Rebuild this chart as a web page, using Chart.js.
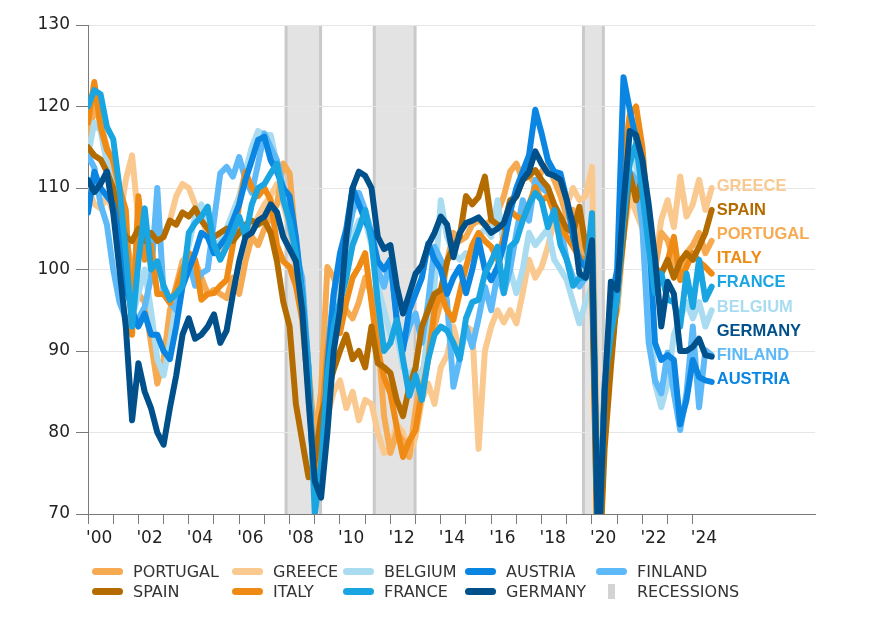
<!DOCTYPE html>
<html lang="en">
<head>
    <meta charset="UTF-8">
    <title>Euro area sentiment by country</title>
    <script src="https://cdn.jsdelivr.net/npm/chart.js"></script>
    <style>
        html, body { margin: 0; padding: 0; background: #fff; }
        #wrap { position: relative; width: 892px; height: 628px; }
        #legend { position: absolute; left: 0; top: 0; width: 892px; height: 628px; pointer-events: none;
                  font-family: "DejaVu Sans", sans-serif; font-size: 16px; color: #333; }
        .item { position: absolute; display: flex; align-items: center; height: 20px; }
        .swatch { width: 31px; height: 7px; border-radius: 4px; margin-right: 10px; }
        .rec { width: 7px; height: 15px; background: #d3d3d3; margin-left: 12px; margin-right: 22px; }
    </style>
</head>
<body>
<div id="wrap">
    <canvas id="chart" width="892" height="628"></canvas>
    <div id="legend"></div>
</div>
<script>
// quarterly observations, first point Q1 2000
const startYear = 2000;

const germany = [
    111, 109.5, 110.5, 112,  107, 100, 93, 81.5,  88.5, 85, 83, 80,  78.5, 83, 87, 92,
    94, 91.5, 92, 93,  94.5, 91, 92.5, 97,  101, 104, 104.5, 106,  106.5, 108, 107, 104,
    102.5, 101, 95, 84,  74, 72, 80, 90,  95, 104, 110, 112,  111.5, 110, 104, 102.5,
    103, 98, 94.6, 97,  99.5, 100.5, 103, 104.5,  106.5, 105.5, 101.5, 104.5,  105.7, 106, 106.4, 105.5,
    104.5, 105, 105.7, 108,  109, 111, 112, 114.5,  113, 111.8, 111.5, 111,  108.5, 105.5, 99.5, 99,
    103.6, 64, 84.8, 98.5,  97.5, 108, 117, 116.5,  113.4, 108, 101.5, 93,  98.5, 97, 90, 90,
    90.5, 91.5, 89.5, 89.3
];
const france = [
    120, 122, 121.5, 117.5,  116, 110, 102, 93,  101, 107.5, 100, 101,  98, 96.3, 97, 98,
    104.5, 105.7, 106.5, 107.7,  103, 101.2, 102.8, 104.5,  106.5, 104, 108, 110,  110.5, 111.8, 113, 108.5,
    106, 102, 97, 88,  70, 76, 87, 93,  96, 99, 103, 105,  107.3, 103.5, 96, 90,
    91, 93.8, 89, 84.5,  87, 84, 89, 92,  93, 92.5, 91, 89,  94, 96, 96.3, 99.5,
    101, 102.8, 97.1, 102.8,  103.5, 106, 108, 109.4,  108.5, 105.2, 107.3, 103,  101.2, 98, 99, 99,
    106.9, 64, 86, 92,  96.5, 106, 113, 115.5,  109.4, 102.8, 97.1, 99.5,  96.3, 96, 93, 99.5,
    95.4, 101.2, 96.3, 97.9
];
const austria = [
    107, 112, 110, 109,  108, 104, 98, 95,  93, 94.6, 92, 92,  90, 89, 93, 97.9,
    100, 102, 104.5, 104,  102, 103, 104, 106,  108, 111, 113.4, 115.9,  116.3, 113.4, 112, 110,
    109, 104, 97, 87,  72, 75, 88, 97,  102, 105, 110, 108,  106, 104.5, 101, 100,
    101.2, 93.8, 90.1, 95,  97, 99, 103.2, 101.2,  100, 97, 99, 100.3,  97.1, 100, 103.6, 100,
    98.7, 100.3, 103, 107,  110, 112, 114, 119.6,  116.7, 113.4, 112, 111.8,  108.5, 104, 101.2, 100.3,
    102, 64, 85, 96,  100, 123.6, 119.6, 116,  113.4, 105.2, 91, 88.9,  89.5, 88.9, 81, 84,
    88.9, 86.8, 86.4, 86.2
];
const spain = [
    115, 114, 113.5, 112,  110, 106, 104, 103.5,  105, 103.5, 104.5, 103.5,  104, 106, 105.5, 107,
    106.5, 107.5, 106, 105,  104, 104.5, 105, 103.5,  104.5, 105.5, 106, 105.5,  106, 104.5, 101, 96,
    93, 83.5, 79, 74.5,  76.5, 82, 85, 87.7,  90, 92, 89, 90,  88, 93, 88.5, 88,
    87.3, 84, 82, 85.6,  88, 93, 95, 97,  97.5, 101, 102.8, 104,  109, 108, 108.9, 111.4,
    106.1, 105.5, 105.2, 108.5,  109, 111, 111.5, 112.2,  111, 110.1, 108, 106.5,  105, 104.5, 107.7, 102.8,
    100, 60, 78, 88,  97, 104, 111.8, 108.5,  111.4, 104.5, 97.1, 99.5,  101.2, 99, 101, 102,
    101.2, 102.8, 104.5, 107.3
];
const italy = [
    118, 123, 117.5, 114.7,  113.4, 110, 107.3, 92,  109, 101.2, 103, 97,  97, 95.9, 97.5, 100,
    102, 101.2, 96.3, 97,  97.1, 98, 98.7, 103,  108, 112, 110, 109,  110, 108.5, 103, 101,
    100.3, 98, 93.8, 85,  75, 80.7, 90, 95,  92.2, 96, 99, 100.3,  102, 96, 90, 86.8,
    84.8, 80.7, 77, 79,  80.3, 85, 88.9, 95,  97.1, 95, 93.8, 97.1,  100.3, 103, 104.5, 103.5,
    102.8, 101.2, 104, 107.3,  106.5, 106.1, 108, 110.1,  108.5, 109, 107, 105.2,  104, 102.8, 101.5, 101.2,
    99, 60, 84.8, 89,  97, 113.4, 119, 120,  115, 105.2, 100.3, 99.5,  101, 104, 98.7, 100.3,
    102, 101, 100.3, 99.5
];
const finland = [
    114, 112.5, 108, 105.5,  100, 96, 94, 93,  94, 95.4, 99, 110,  97, 96, 95, 100,
    101, 98, 99.5, 100,  106, 111.8, 112.6, 111.4,  113.8, 111, 109.4, 113,  116.7, 115, 113.4, 110,
    105.2, 102, 99, 88,  72, 78, 90, 97,  101.2, 103.2, 107, 109.4,  107.3, 104.5, 100, 97.9,
    101.2, 94, 90.5, 93,  94.6, 91, 96, 102.8,  101.2, 96, 85.6, 89,  93, 90.5, 94, 97.9,
    95, 99.5, 97.1, 100,  104.5, 108.5, 106, 111,  110, 109.4, 107, 105.2,  101.2, 99, 97.9, 99,
    100, 66, 84, 92,  97, 106, 112, 111,  105.2, 91, 86.4, 84.8,  89.8, 84.8, 80.3, 84.8,
    93, 83.1, 90.1, 89.5
];
const belgium = [
    114, 118, 117, 113,  110, 104, 99, 94,  97, 100, 95, 89,  87, 91, 96, 100,
    103, 106.5, 108, 106,  103, 103.5, 105, 107,  109, 112, 115, 117,  116.5, 116.5, 113, 109,
    106, 104, 97, 86,  73, 76, 86, 94,  99, 101, 104, 106,  106, 103, 98, 95,
    92, 92.2, 88, 87,  88, 86, 93, 98,  108.5, 104, 102, 101.2,  102, 101.5, 104, 105,
    104, 108.5, 102.8, 100,  97.1, 100, 104.5, 103,  104, 105, 101.2, 100,  98.7, 96, 93.4, 96,
    98, 66, 84, 92,  96, 108, 115, 113,  106, 99, 86, 83.1,  86, 92, 94, 96,
    94, 96, 93, 95
];
const portugal = [
    116, 120, 118, 115,  113, 108, 104, 100,  97, 96, 91, 86,  89, 95, 98, 101,
    102, 101, 99, 97,  97.5, 97, 96.5, 99,  97, 101, 104, 103,  105, 106.5, 108, 113,
    111.8, 103.2, 97.1, 88,  79, 85, 100.3, 99,  97, 95, 94, 96,  99, 97, 92, 82,
    77.5, 80, 79, 77,  82.8, 87, 91, 93,  96, 101, 104.5, 103.5,  104, 105.5, 106, 105.5,
    106, 107, 109, 112,  113, 111, 111.5, 110.5,  112, 113, 111, 109,  106.5, 107.3, 104, 101,
    99, 68, 82, 92,  95, 104, 114, 113,  110, 103, 100, 104.5,  103.6, 101, 99.5, 102,
    103, 104.5, 102, 103.5
];
const greece = [
    110, 108, 107.5, 109,  107, 106, 111, 114,  106, 103, 102.5, 104.5,  104, 106, 109, 110.5,
    110, 108, 106.5, 104,  103, 102.5, 103, 104.5,  105, 104, 105, 106.5,  108, 109, 110.5, 108,
    105, 100, 96, 88,  79, 78, 82, 85,  86.4, 83, 85, 81.5,  84, 83.5, 80, 77.5,
    78, 81, 80, 77,  79.5, 84, 86, 83.5,  88, 89.5, 93, 90,  93, 92.5, 78, 90,
    93, 95, 93.5, 95,  93.4, 97.1, 101.2, 99,  100.3, 102.8, 106, 104,  108, 110, 108.5, 109,
    112.6, 72, 86, 92,  98, 104, 109, 107,  105, 97.1, 101, 106.1,  108.5, 105.2, 111.4, 106.5,
    108, 111, 107.3, 110
];

// recession periods in decimal years
const recessionStart = [2007.86, 2011.36, 2019.66];
const recessionEnd = [2009.23, 2012.98, 2020.45];

// series: name, values, colour (first entry is drawn on top)
const seriesNames = ['GERMANY', 'FRANCE', 'AUSTRIA', 'SPAIN', 'ITALY', 'FINLAND', 'BELGIUM', 'PORTUGAL', 'GREECE'];
const seriesValues = [germany, france, austria, spain, italy, finland, belgium, portugal, greece];
const seriesColors = ['#00508c', '#19a5e1', '#0a85e2', '#b46c00', '#ef8b14', '#5db9f7', '#a9dcf1', '#f6aa52', '#fac990'];

// right-hand labels, top to bottom, with the axis value they sit at
const endLabels = ['GREECE', 'SPAIN', 'PORTUGAL', 'ITALY', 'FRANCE', 'BELGIUM', 'GERMANY', 'FINLAND', 'AUSTRIA'];
const endLabelAt = [110.2, 107.3, 104.3, 101.3, 98.4, 95.4, 92.4, 89.5, 86.5];

// bottom legend, in reading order
const legendNames = ['PORTUGAL', 'GREECE', 'BELGIUM', 'AUSTRIA', 'FINLAND',
                     'SPAIN', 'ITALY', 'FRANCE', 'GERMANY', 'RECESSIONS'];

const colorOf = name => seriesColors[seriesNames.indexOf(name)];

const datasets = seriesNames.map((name, i) => ({
    label: name,
    data: seriesValues[i].map((v, k) => ({ x: startYear + k / 4, y: v })),
    borderColor: seriesColors[i],
    backgroundColor: seriesColors[i],
    borderWidth: 6,
    borderJoinStyle: 'round',
    borderCapStyle: 'round',
    pointRadius: 0,
    tension: 0,
    clip: 0
}));

// shaded recession bands, drawn under the grid
const recessionPlugin = {
    id: 'recessions',
    beforeDraw(chart) {
        const { ctx, chartArea, scales } = chart;
        ctx.save();
        recessionStart.forEach((s, i) => {
            const x0 = scales.x.getPixelForValue(s);
            const x1 = scales.x.getPixelForValue(recessionEnd[i]);
            ctx.fillStyle = '#e3e3e3';
            ctx.fillRect(x0, chartArea.top, x1 - x0, chartArea.bottom - chartArea.top);
            ctx.fillStyle = '#c9c9c9';
            ctx.fillRect(x0 - 1.5, chartArea.top, 3, chartArea.bottom - chartArea.top);
            ctx.fillRect(x1 - 1.5, chartArea.top, 3, chartArea.bottom - chartArea.top);
        });
        ctx.restore();
    }
};

// country names at the end of the lines
const endLabelPlugin = {
    id: 'endLabels',
    afterDatasetsDraw(chart) {
        const { ctx, scales } = chart;
        ctx.save();
        ctx.font = 'bold 16.5px "Liberation Sans", Arial, sans-serif';
        ctx.textAlign = 'left';
        ctx.textBaseline = 'middle';
        endLabels.forEach((name, i) => {
            ctx.fillStyle = colorOf(name);
            ctx.fillText(name, scales.x.getPixelForValue(2024.95), scales.y.getPixelForValue(endLabelAt[i]));
        });
        ctx.restore();
    }
};

new Chart(document.getElementById('chart'), {
    type: 'line',
    data: { datasets: datasets },
    options: {
        responsive: false,
        animation: false,
        layout: { padding: { left: 0, right: 77, top: 25, bottom: 64 } },
        plugins: { legend: { display: false }, tooltip: { enabled: false } },
        scales: {
            x: {
                type: 'linear',
                min: 2000,
                max: 2028.85,
                afterFit: s => { s.height = 50; },
                border: { color: '#7a7a7a', width: 1 },
                grid: {
                    drawOnChartArea: false,
                    tickLength: 10,
                    color: c => (c.tick && c.tick.value <= 2024 ? '#7a7a7a' : 'rgba(0,0,0,0)')
                },
                ticks: {
                    stepSize: 1,
                    autoSkip: false,
                    maxRotation: 0,
                    align: 'start',
                    labelOffset: -2,
                    padding: 4,
                    color: '#222',
                    font: { family: 'DejaVu Sans', size: 17 },
                    callback: v => (Number.isInteger(v) && v % 2 === 0 && v <= 2024 ? "'" + String(v).slice(2) : '')
                }
            },
            y: {
                min: 70,
                max: 130,
                afterFit: s => { s.width = 88; },
                border: { color: '#7a7a7a', width: 1 },
                grid: { color: '#e6e6e6', tickColor: '#7a7a7a', tickLength: 12 },
                ticks: {
                    stepSize: 10,
                    padding: 6,
                    color: '#222',
                    font: { family: 'DejaVu Sans', size: 17 }
                }
            }
        }
    },
    plugins: [recessionPlugin, endLabelPlugin]
});

// legend below the chart, two rows of five
const legendCols = [92, 232, 343, 465, 596];
const legendRows = [561, 581];
const legendBox = document.getElementById('legend');
legendNames.forEach((name, i) => {
    const item = document.createElement('div');
    item.className = 'item';
    item.style.left = legendCols[i % 5] + 'px';
    item.style.top = legendRows[Math.floor(i / 5)] + 'px';
    const mark = document.createElement('span');
    if (name === 'RECESSIONS') {
        mark.className = 'rec';
    } else {
        mark.className = 'swatch';
        mark.style.background = colorOf(name);
    }
    item.appendChild(mark);
    item.appendChild(document.createTextNode(name));
    legendBox.appendChild(item);
});
</script>
</body>
</html>
